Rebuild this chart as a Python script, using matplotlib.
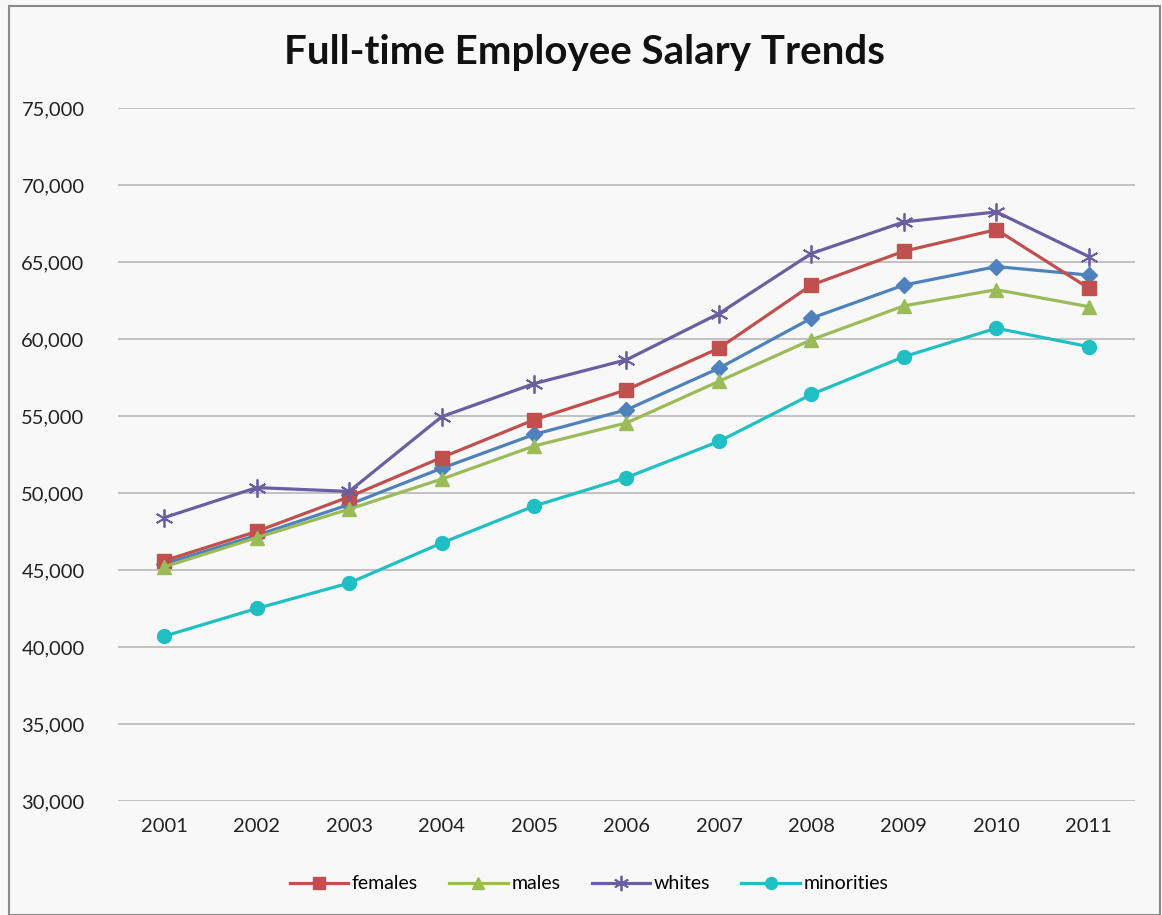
import matplotlib
matplotlib.use("Agg")
import matplotlib.pyplot as plt
from matplotlib.patches import Rectangle

years = ["2001", "2002", "2003", "2004", "2005", "2006", "2007", "2008", "2009", "2010", "2011"]
females = [45600, 47500, 49750, 52300, 54750, 56700, 59400, 63500, 65700, 67100, 63300]
males = [45200, 47100, 48950, 50900, 53050, 54550, 57250, 59950, 62150, 63200, 62100]
whites = [48400, 50350, 50100, 54950, 57100, 58650, 61650, 65550, 67600, 68250, 65350]
minorities = [40700, 42500, 44150, 46750, 49150, 51000, 53350, 56400, 58850, 60700, 59500]
all_staff = [45400, 47250, 49250, 51600, 53800, 55400, 58100, 61350, 63500, 64700, 64150]
yticks = [30000, 35000, 40000, 45000, 50000, 55000, 60000, 65000, 70000, 75000]

plt.rcParams['font.family'] = ['Lato', 'DejaVu Sans']

fig = plt.figure(figsize=(11.62, 9.15), dpi=100, facecolor='#f8f8f8')
ax = fig.add_axes([0.1015, 0.1246, 0.8753, 0.7574])
ax.set_facecolor('#f8f8f8')

x = list(range(len(years)))
lw = 2.3
ax.plot(x, all_staff, color='#4f81bd', lw=lw, marker='D', ms=8, zorder=3)
ax.plot(x, females, color='#c0504d', lw=lw, marker='s', ms=10, zorder=4, label='females')
ax.plot(x, males, color='#9bbb59', lw=lw, marker='^', ms=10, zorder=5, label='males')
ax.plot(x, whites, color='#6a5fa0', lw=lw, marker=(6, 2, 0), ms=13, mew=1.3, zorder=6, label='whites')
ax.plot(x, minorities, color='#20bfc4', lw=lw, marker='o', ms=10, zorder=7, label='minorities')

ax.set_xlim(-0.5, len(years) - 0.5)
ax.set_ylim(30000, 75000)
ax.set_yticks(yticks)
ax.set_yticklabels([f"{v:,}" for v in yticks])
ax.set_xticks(x)
ax.set_xticklabels(years)
ax.tick_params(axis='both', length=0, labelsize=14.5, colors='#222222')
ax.tick_params(axis='y', pad=24)
ax.tick_params(axis='x', pad=12)
ax.grid(axis='y', color='#bdbdbd', lw=1.3)
ax.set_axisbelow(True)
for s in ax.spines.values():
    s.set_visible(False)

fig.text(0.503, 0.943, "Full-time Employee Salary Trends", ha='center', va='center',
         fontsize=29, fontweight='bold', color='#111111')

handles, labels = ax.get_legend_handles_labels()
leg = fig.legend(handles, labels, loc='center', bbox_to_anchor=(0.507, 0.034), ncol=4,
                 frameon=False, fontsize=14, handlelength=3.0, columnspacing=1.6,
                 handletextpad=0.2, markerscale=0.85)

fig.patches.append(Rectangle((0.008, 0.0), 0.99, 0.993, transform=fig.transFigure,
                             fill=False, edgecolor='#8a8a8a', lw=1.5))

fig.savefig("out.png", dpi=100, facecolor=fig.get_facecolor())
